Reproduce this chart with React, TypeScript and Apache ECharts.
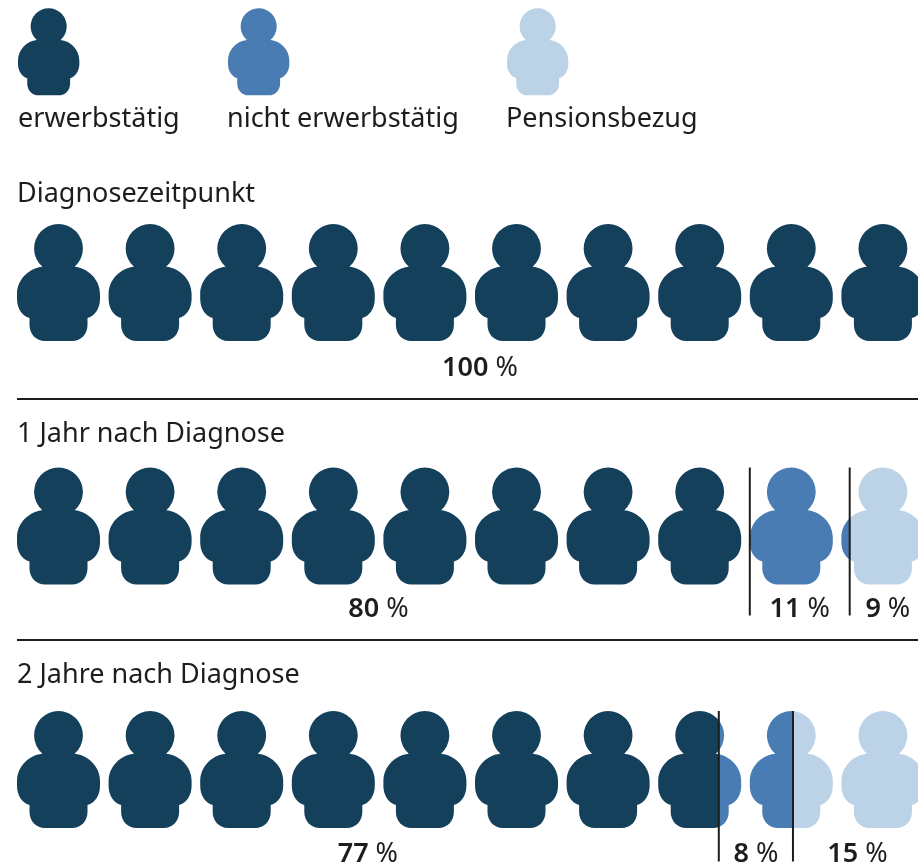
import React, { useEffect, useRef } from "react";
import * as echarts from "echarts";

// ---- data ----
const STATUS_NAMES = ["erwerbstätig", "nicht erwerbstätig", "Pensionsbezug"];
const ROW_NAMES = ["Diagnosezeitpunkt", "1 Jahr nach Diagnose", "2 Jahre nach Diagnose"];
const DIAGNOSE_SHARES = [100, 0, 0];
const YEAR1_SHARES = [80, 11, 9];
const YEAR2_SHARES = [77.3, 7.9, 14.8];
const ROW_SHARES = [DIAGNOSE_SHARES, YEAR1_SHARES, YEAR2_SHARES];

// ---- style / layout ----
const COLORS = ["#14405c", "#4a7cb4", "#bcd2e7"];
const INK = "#1d1d1b";
const FONT = "'Noto Sans', sans-serif";
const FONT_SIZE = 27;
const PERSON_W = 83;
const PERSON_H = 117;
const PERSON_D =
  "M25.4 42.7 C12 44 0 55.5 0 70 L0 75 C0 84 5 92 12.5 94 L12.5 101 C12.5 110 19 117 28 117 L55 117 C64 117 70.5 110 70.5 101 L70.5 94 C78 92 83 84 83 75 L83 70 C83 55.5 71 44 57.6 42.7 A24.4 24.4 0 1 0 25.4 42.7 Z";
const TITLE_Y = [191, 431, 672.5];
const LEGEND_TEXT_Y = 116;
const RULE_Y = [399, 640];
const LABEL_DY = [83, 80, 81.8];
const LABEL_NUDGE = [[5], [-5, 0, 4], [0, 0, 2]];
const ROW_BOTTOM_DY = [0, 89.5, 92];
const PERSON_TOP_DY = -58.5;
const LEGEND_X = [18, 228, 507];
const LEGEND_TEXT_X = [18, 227, 506];

echarts.graphic.registerShape("person", echarts.graphic.extendPath(PERSON_D, {}) as any);

function personFill(shares: number[], slot: number) {
  const lo = slot * 10;
  const hi = lo + 10;
  const stops: { offset: number; color: string }[] = [];
  let cum = 0;
  shares.forEach((s, k) => {
    const a = Math.max(cum, lo);
    const b = Math.min(cum + s, hi);
    cum += s;
    if (b > a) {
      stops.push({ offset: (a - lo) / 10, color: COLORS[k] });
      stops.push({ offset: (b - lo) / 10, color: COLORS[k] });
    }
  });
  if (stops.length === 2) return stops[0].color;
  return new echarts.graphic.LinearGradient(0, 0, 1, 0, stops) as any;
}

function pctToPx(api: any, v: number) {
  const slot = Math.min(Math.floor(v / 10), 9);
  const left = api.coord([slot * 10, 0])[0];
  return left + (v / 10 - slot) * PERSON_W;
}

const personData: number[][] = [];
ROW_SHARES.forEach((_, r) => {
  for (let i = 0; i < 10; i++) personData.push([i * 10, r, i]);
});

const segmentData: number[][] = [];
ROW_SHARES.forEach((shares, r) => {
  let cum = 0;
  shares.forEach((s, k) => {
    if (s > 0) segmentData.push([cum, r, cum + s, s, k]);
    cum += s;
  });
});

function renderPerson(params: any, api: any) {
  const x = api.value(0);
  const r = api.value(1);
  const slot = api.value(2);
  const p = api.coord([x, r]);
  return {
    type: "person",
    x: p[0],
    y: p[1] + PERSON_TOP_DY,
    style: { fill: personFill(ROW_SHARES[r], slot) },
  };
}

function renderSegment(params: any, api: any) {
  const start = api.value(0);
  const r = api.value(1);
  const end = api.value(2);
  const share = api.value(3);
  const k = api.value(4);
  const cy = api.coord([0, r])[1];
  const x0 = pctToPx(api, start);
  const x1 = pctToPx(api, end);
  const endX = end >= 99.99 ? (r === 0 ? api.coord([100, r])[0] : 918) : x1;
  const children: any[] = [
    {
      type: "text",
      style: {
        x: (x0 + endX) / 2 + LABEL_NUDGE[r][k],
        y: cy + LABEL_DY[r],
        text: `{b|${Math.round(share)}}{r| %}`,
        align: "center",
        verticalAlign: "middle",
        rich: {
          b: { fontFamily: FONT, fontSize: FONT_SIZE, fontWeight: 600, fill: INK },
          r: { fontFamily: FONT, fontSize: FONT_SIZE, fontWeight: 400, fill: INK },
        },
      },
    },
  ];
  if (end < 99.99) {
    children.push({
      type: "line",
      shape: { x1, y1: cy + PERSON_TOP_DY, x2: x1, y2: cy + ROW_BOTTOM_DY[r] },
      style: { stroke: INK, lineWidth: 2 },
    });
  }
  return { type: "group", children };
}

export default function App() {
  const ref = useRef<HTMLDivElement>(null);
  useEffect(() => {
    const chart = echarts.init(ref.current!, null, { renderer: "svg" });
    const textStyle = { fontFamily: FONT, fontSize: FONT_SIZE, fill: INK };
    chart.setOption({
      animation: false,
      grid: { left: 17, width: 916, top: 160.75, height: 730.5 },
      xAxis: { type: "value", min: 0, max: 100, show: false },
      yAxis: {
        type: "category",
        inverse: true,
        data: ROW_NAMES.map((_, i) => i),
        show: false,
      },
      graphic: [
        ...STATUS_NAMES.flatMap((name, i) => [
          {
            type: "person",
            x: LEGEND_X[i],
            y: 8.3,
            scaleX: 61.3 / PERSON_W,
            scaleY: 87 / PERSON_H,
            style: { fill: COLORS[i] },
          },
          {
            type: "text",
            x: LEGEND_TEXT_X[i],
            y: LEGEND_TEXT_Y,
            style: { ...textStyle, text: name, verticalAlign: "middle" },
          },
        ]),
        ...ROW_NAMES.map((name, i) => ({
          type: "text",
          x: 17,
          y: TITLE_Y[i],
          style: { ...textStyle, text: name, verticalAlign: "middle" },
        })),
        ...RULE_Y.map((y) => ({
          type: "line",
          shape: { x1: 17, y1: y, x2: 918, y2: y },
          style: { stroke: INK, lineWidth: 2 },
        })),
      ],
      series: [
        {
          type: "custom",
          coordinateSystem: "cartesian2d",
          data: personData,
          renderItem: renderPerson,
          silent: true,
          encode: { x: 0, y: 1 },
        },
        {
          type: "custom",
          coordinateSystem: "cartesian2d",
          data: segmentData,
          renderItem: renderSegment,
          silent: true,
          encode: { x: 0, y: 1 },
          z: 5,
        },
      ],
    });
    return () => chart.dispose();
  }, []);
  return (
    <div style={{ position: "fixed", left: 0, top: 0, width: 918, height: 865, overflow: "hidden" }}>
      <div ref={ref} style={{ width: 960, height: 920 }} />
    </div>
  );
}
